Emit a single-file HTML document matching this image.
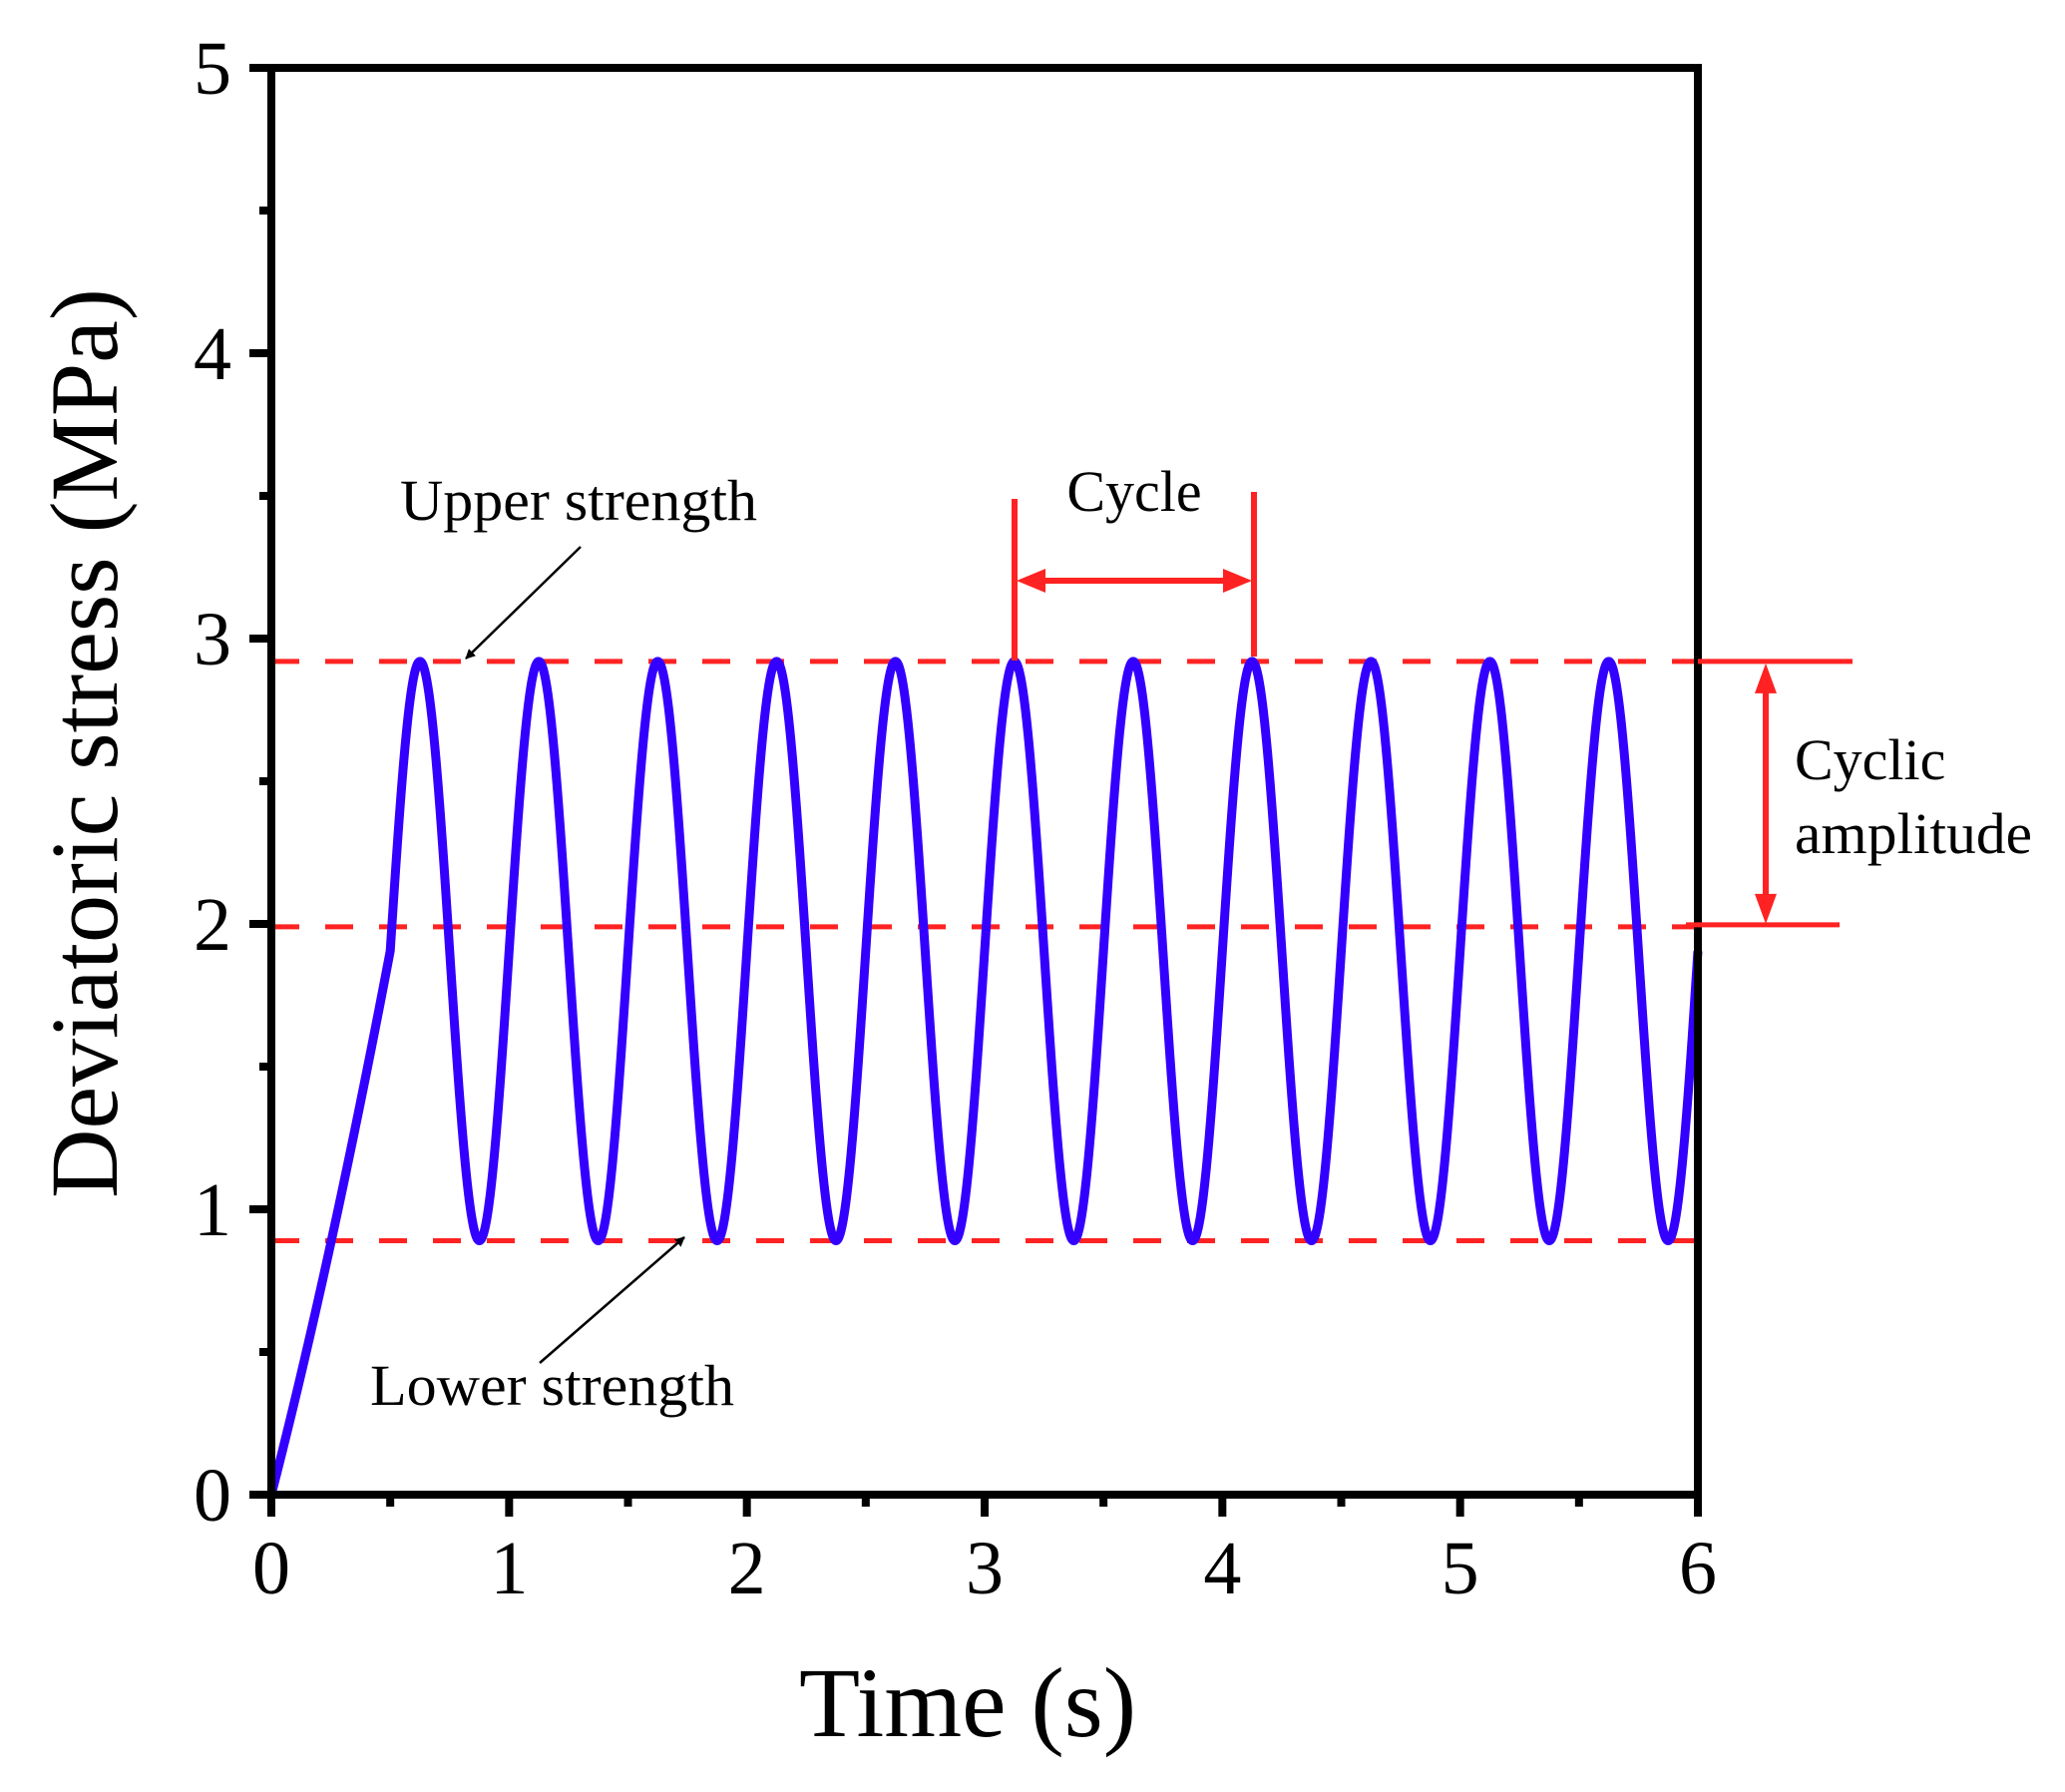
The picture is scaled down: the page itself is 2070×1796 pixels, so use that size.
<!DOCTYPE html>
<html><head><meta charset="utf-8"><style>
html,body{margin:0;padding:0;background:#fff;}
svg{display:block;font-family:"Liberation Serif",serif;}
</style></head><body>
<svg id="chart" width="2070" height="1796" viewBox="0 0 2070 1796" xmlns="http://www.w3.org/2000/svg" font-family="Liberation Serif, serif">
<defs>
<marker id="ah" markerWidth="10" markerHeight="10" refX="9" refY="5" orient="auto" markerUnits="userSpaceOnUse" viewBox="0 0 10 10">
<path d="M0,0 L10,5 L0,10 z" fill="#000"/></marker>
</defs>
<g id="plot"></g>
</svg>
<script>
const xTicks=[0,1,2,3,4,5,6];
const yTicks=[0,1,2,3,4,5];
const upperStrength=2.92;
const midLevel=1.99;
const lowerStrength=0.89;
const meanStress=1.905;
const amplitude=1.015;
const period=0.5;
const rampEnd=0.5;
const tEnd=6;

const X0=272,X1=1702,Y0=1498,Y1=68;
const xs=t=>X0+(t-0)/(6-0)*(X1-X0);
const ys=v=>Y0-(v-0)/(5-0)*(Y0-Y1);
const NS="http://www.w3.org/2000/svg";
const g=document.getElementById('plot');
function mk(tag,attrs){const e=document.createElementNS(NS,tag);for(const k in attrs)e.setAttribute(k,attrs[k]);g.appendChild(e);return e;}

let e;
e=mk('line',{x1:X0,x2:X1,y1:ys(upperStrength),y2:ys(upperStrength),stroke:'#ff2222','stroke-width':5,'stroke-dasharray':'28 26'});


e=mk('line',{x1:X0,x2:X1,y1:ys(midLevel),y2:ys(midLevel),stroke:'#ff2222','stroke-width':5,'stroke-dasharray':'28 26'});


e=mk('line',{x1:X0,x2:X1,y1:ys(lowerStrength),y2:ys(lowerStrength),stroke:'#ff2222','stroke-width':5,'stroke-dasharray':'28 26'});



let d='';
const N=2400;
for(let i=0;i<=N;i++){
  const t=tEnd*i/N;
  let v;
  if(t<=rampEnd){const r=t/rampEnd; v=meanStress*(0.85*r+0.15*r*r);}
  else v=meanStress+amplitude*Math.sin(2*Math.PI*(t-rampEnd)/period);
  d+=(i?'L':'M')+xs(t).toFixed(2)+','+ys(v).toFixed(2);
}
e=mk('path',{d:d,fill:'none',stroke:'#3300ff','stroke-width':9,'stroke-linejoin':'round'});



e=mk('rect',{x:X0,y:Y1,width:X1-X0,height:Y0-Y1,fill:'none',stroke:'#000','stroke-width':8});



xTicks.forEach(t=>{
  let l=mk('line',{x1:xs(t),x2:xs(t),y1:Y0,y2:Y0+22,stroke:'#000','stroke-width':8});
  
  
  let tx=mk('text',{x:xs(t),y:1597,'font-size':76,'text-anchor':'middle'});
  tx.textContent=t;
  
  
  if(t<6){let m=mk('line',{x1:xs(t+0.5),x2:xs(t+0.5),y1:Y0,y2:Y0+12,stroke:'#000','stroke-width':8});
  
  }
});
yTicks.forEach(v=>{
  let l=mk('line',{x1:X0-22,x2:X0,y1:ys(v),y2:ys(v),stroke:'#000','stroke-width':8});
  
  
  let tx=mk('text',{x:232,y:ys(v)+26,'font-size':76,'text-anchor':'end'});
  tx.textContent=v;
  
  
  if(v<5){let m=mk('line',{x1:X0-12,x2:X0,y1:ys(v+0.5),y2:ys(v+0.5),stroke:'#000','stroke-width':8});
  
  }
});

e=mk('text',{x:970,y:1740,'font-size':100,'text-anchor':'middle'});
e.textContent='Time (s)';


e=mk('text',{x:0,y:0,'font-size':96,'text-anchor':'middle',transform:'translate(117,745) rotate(-90)'});
e.textContent='Deviatoric stress (MPa)';



e=mk('text',{x:401,y:521,'font-size':58,textLength:358,lengthAdjust:'spacingAndGlyphs'});
e.textContent='Upper strength';


e=mk('line',{x1:582,y1:548,x2:467,y2:660,stroke:'#000','stroke-width':2.5,'marker-end':'url(#ah)'});


e=mk('text',{x:371,y:1408,'font-size':58,textLength:365,lengthAdjust:'spacingAndGlyphs'});
e.textContent='Lower strength';


e=mk('line',{x1:541,y1:1366,x2:686,y2:1240,stroke:'#000','stroke-width':2.5,'marker-end':'url(#ah)'});



const red='#ff2222';
e=mk('line',{x1:1017,x2:1017,y1:500,y2:662,stroke:red,'stroke-width':6});


e=mk('line',{x1:1257,x2:1257,y1:493,y2:658,stroke:red,'stroke-width':6});


e=mk('line',{x1:1040,x2:1234,y1:582,y2:582,stroke:red,'stroke-width':6});


e=mk('path',{d:'M1019,582 L1048,570 L1048,594 Z M1255,582 L1226,570 L1226,594 Z',fill:red});


e=mk('text',{x:1137,y:512,'font-size':58,'text-anchor':'middle'});
e.textContent='Cycle';



e=mk('line',{x1:1702,x2:1857,y1:ys(upperStrength),y2:ys(upperStrength),stroke:red,'stroke-width':5});


e=mk('line',{x1:1690,x2:1844,y1:ys(midLevel)-2,y2:ys(midLevel)-2,stroke:red,'stroke-width':5});


e=mk('line',{x1:1770,x2:1770,y1:ys(upperStrength)+25,y2:ys(midLevel)-27,stroke:red,'stroke-width':6});


e=mk('path',{d:`M1770,${ys(upperStrength)+2} L1759,${ys(upperStrength)+32} L1781,${ys(upperStrength)+32} Z M1770,${ys(midLevel)-3} L1759,${ys(midLevel)-33} L1781,${ys(midLevel)-33} Z`,fill:red});


e=mk('text',{x:1799,y:781,'font-size':58});
e.textContent='Cyclic';


e=mk('text',{x:1799,y:855,'font-size':58,textLength:238,lengthAdjust:'spacingAndGlyphs'});
e.textContent='amplitude';


</script>
</body></html>
